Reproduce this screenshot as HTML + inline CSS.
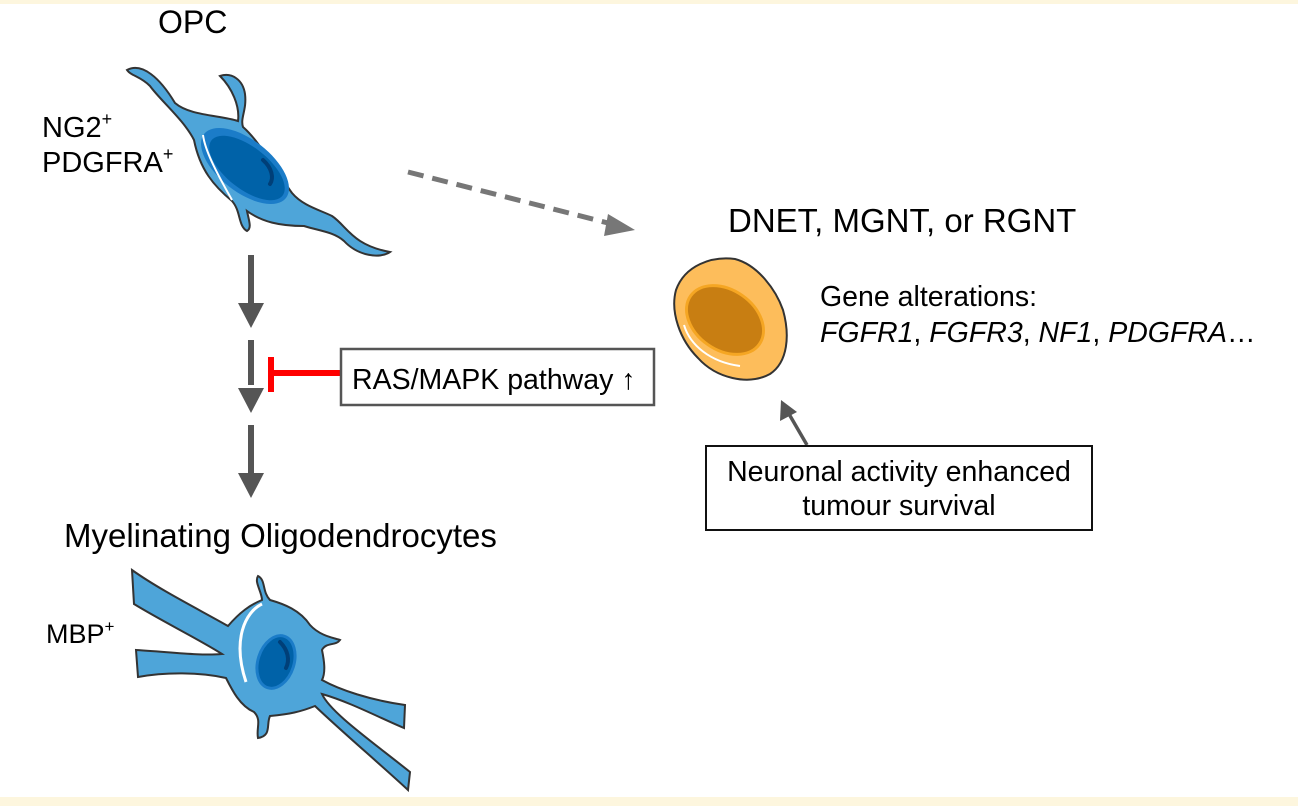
<!DOCTYPE html>
<html><head><meta charset="utf-8"><style>
html,body{margin:0;padding:0;background:#fff}
svg{display:block}
text{font-family:"Liberation Sans",Arial,sans-serif;fill:#000}
</style></head><body>
<svg width="1298" height="806" viewBox="0 0 1298 806" xmlns="http://www.w3.org/2000/svg">
<rect width="1298" height="806" fill="#fff"/>
<rect x="0" y="0" width="1298" height="4" fill="#fdf6de"/>
<rect x="0" y="797" width="1298" height="9" fill="#fdf6de"/>

<!-- Labels -->
<text x="158" y="33" font-size="32">OPC</text>
<text x="42" y="137" font-size="29">NG2<tspan font-size="18" dy="-12">+</tspan></text>
<text x="42" y="172" font-size="29">PDGFRA<tspan font-size="18" dy="-12">+</tspan></text>
<text x="64" y="547" font-size="33">Myelinating Oligodendrocytes</text>
<text x="46" y="643" font-size="27">MBP<tspan font-size="17" dy="-11">+</tspan></text>
<text x="728" y="232" font-size="33">DNET, MGNT, or RGNT</text>
<text x="820" y="306" font-size="28.5">Gene alterations:</text>
<text x="820" y="342" font-size="28.5"><tspan font-style="italic">FGFR1</tspan>, <tspan font-style="italic">FGFR3</tspan>, <tspan font-style="italic">NF1</tspan>, <tspan font-style="italic">PDGFRA</tspan>…</text>

<!-- OPC cell -->
<path d="M127,70 C142,62 160,78 175,103 C190,116 220,115 238,121 C240,106 232,88 220,76 C232,72 243,80 245,94 C247,110 240,118 243,127 C258,140 270,162 292,193 C303,206 320,210 332,216 C347,226 352,245 390,252 C380,259 358,256 344,241 C334,232 320,231 304,226 C280,226 262,222 247,211 C249,221 252,228 247,231 C238,226 241,211 232,201 C214,186 200,170 194,140 C184,120 160,100 150,86 C140,76 131,76 127,70Z" fill="#4ea5d9" stroke="#333" stroke-width="2"/>
<ellipse cx="245" cy="166" rx="52" ry="26" transform="rotate(38 245 166)" fill="#1b7cc8"/>
<ellipse cx="247" cy="168" rx="45" ry="21" transform="rotate(38 247 168)" fill="#0062a8"/>
<path d="M263,160 C272,168 274,178 270,184" stroke="#003f78" stroke-width="4" fill="none" stroke-linecap="round"/>
<path d="M203,135 C205,150 215,170 232,200" stroke="#fff" stroke-width="2" fill="none"/>

<!-- Oligodendrocyte -->
<path d="M132,570 C160,590 200,610 228,626 C240,612 250,605 262,600 C262,592 254,582 258,576 C266,580 262,592 270,600 C284,604 300,610 310,625 C320,636 334,638 340,640 C336,646 326,642 322,650 C324,660 326,672 322,680 C340,690 370,700 405,705 L404,728 C380,718 350,702 322,694 C330,712 370,740 410,772 L408,790 C380,764 340,730 315,706 C300,712 290,714 270,716 C266,724 272,736 258,738 C256,728 262,720 254,712 C240,706 232,690 226,678 C200,672 165,672 138,677 L136,650 C170,652 200,656 222,654 C200,640 160,620 134,604Z" fill="#4ea5d9" stroke="#333" stroke-width="2"/>
<path d="M262,604 C245,612 232,640 246,682" stroke="#fff" stroke-width="3" fill="none"/>
<ellipse cx="276" cy="662" rx="18" ry="27" transform="rotate(18 276 662)" fill="#0062a8" stroke="#1b7cc8" stroke-width="3"/>
<path d="M280,642 C288,650 290,660 286,668" stroke="#003f78" stroke-width="4" fill="none" stroke-linecap="round"/>

<!-- Orange tumour cell -->
<path d="M676,290 C685,265 712,256 735,259 C758,265 776,290 783,310 C790,335 788,362 770,374 C748,386 716,378 698,358 C680,340 670,312 676,290Z" fill="#fdbd5b" stroke="#333" stroke-width="2"/>
<ellipse cx="725" cy="320" rx="42" ry="30" transform="rotate(35 725 320)" fill="#c87e12" stroke="#f5a623" stroke-width="3"/>
<path d="M684,325 C690,345 710,362 740,366" stroke="#fff" stroke-width="2" fill="none"/>

<!-- Vertical arrows -->
<g fill="#555" stroke="none">
<rect x="248" y="255" width="6" height="50"/><polygon points="238,303 264,303 251,328"/>
<rect x="248" y="340" width="6" height="45"/><polygon points="238,388 264,388 251,413"/>
<rect x="248" y="425" width="6" height="48"/><polygon points="238,473 264,473 251,498"/>
</g>
<!-- Red inhibitor -->
<rect x="268" y="357" width="6" height="35" fill="#f00"/>
<rect x="271" y="370" width="70" height="6" fill="#f00"/>
<rect x="341" y="349" width="313" height="56" fill="#fff" stroke="#555" stroke-width="2.5"/>
<text x="352" y="389" font-size="28.5">RAS/MAPK pathway ↑</text>

<!-- Dashed arrow -->
<line x1="408" y1="172" x2="612" y2="224" stroke="#777" stroke-width="5" stroke-dasharray="16,9"/>
<polygon points="635,230 608,214 604,236" fill="#777"/>

<!-- Neuronal box and arrow -->
<line x1="807" y1="445" x2="789" y2="414" stroke="#555" stroke-width="3.5"/>
<polygon points="781,400 780,421 797,412" fill="#555"/>
<rect x="706" y="446" width="386" height="84" fill="#fff" stroke="#111" stroke-width="2"/>
<text x="899" y="481" font-size="28.5" text-anchor="middle">Neuronal activity enhanced</text>
<text x="899" y="515" font-size="28.5" text-anchor="middle">tumour survival</text>
</svg>
</body></html>
